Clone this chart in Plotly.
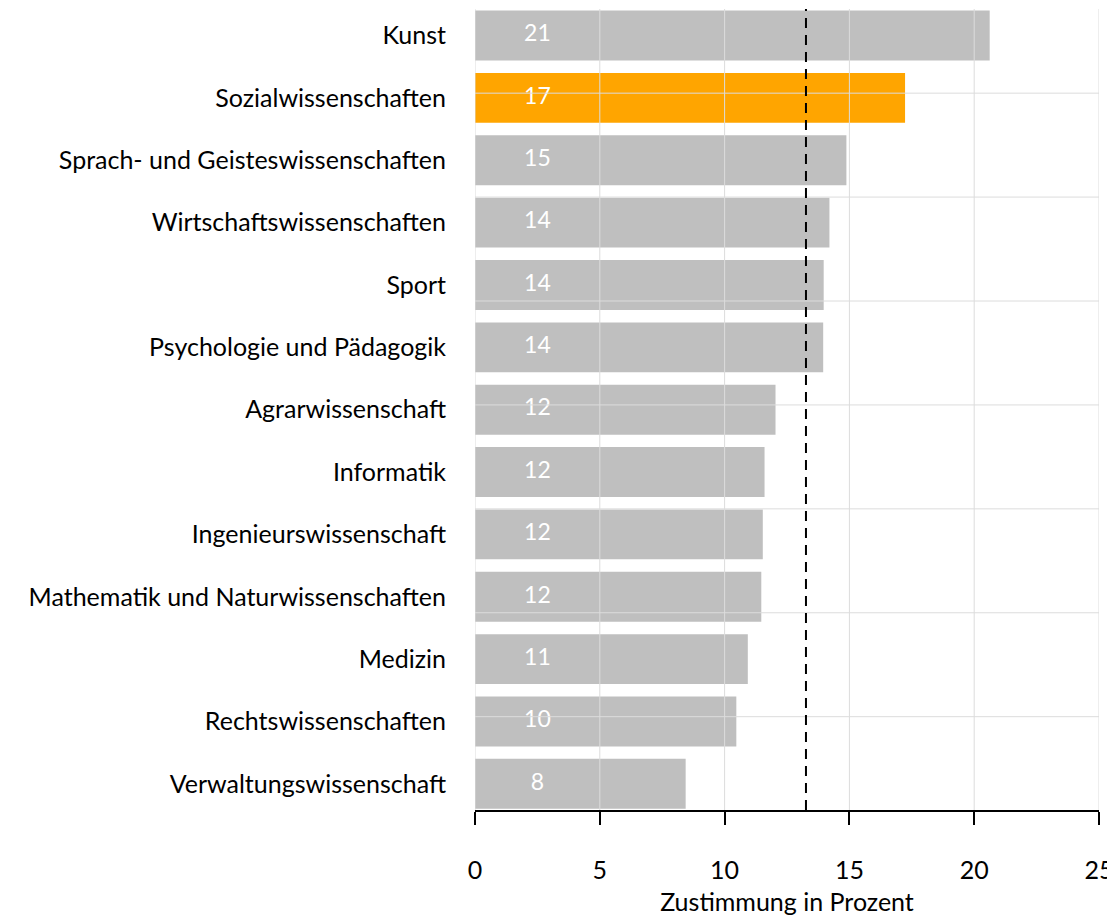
import plotly.graph_objects as go

# Fächer, von oben nach unten
faecher = [
    "Kunst",
    "Sozialwissenschaften",
    "Sprach- und Geisteswissenschaften",
    "Wirtschaftswissenschaften",
    "Sport",
    "Psychologie und Pädagogik",
    "Agrarwissenschaft",
    "Informatik",
    "Ingenieurswissenschaft",
    "Mathematik und Naturwissenschaften",
    "Medizin",
    "Rechtswissenschaften",
    "Verwaltungswissenschaft",
]
zustimmung = [20.62, 17.23, 14.88, 14.2, 13.97, 13.95, 12.04, 11.6, 11.53, 11.47, 10.93, 10.47, 8.44]
labels = ["21", "17", "15", "14", "14", "14", "12", "12", "12", "12", "11", "10", "8"]
highlight = "Sozialwissenschaften"
durchschnitt = 13.26

x_ticks = [0, 5, 10, 15, 20, 25]
h_grid = [1, 2, 3, 4, 5, 6, 7]

FONT = "Lato"
GREY = "#BFBFBF"
ORANGE = "#FFA500"
GRID = "#DCDCDC"
LABEL_X = 2.5

colours = [ORANGE if f == highlight else GREY for f in faecher]

fig = go.Figure()

fig.add_trace(go.Bar(
    x=zustimmung,
    y=faecher,
    orientation="h",
    width=0.8,
    marker=dict(color=colours, line=dict(width=0)),
    showlegend=False,
    hoverinfo="x+y",
))

# Werte als weiße Beschriftung im Balken
fig.add_trace(go.Scatter(
    x=[LABEL_X] * len(faecher),
    y=faecher,
    mode="text",
    text=labels,
    textposition="middle center",
    textfont=dict(family=FONT, size=23, color="white"),
    showlegend=False,
    hoverinfo="skip",
))

# leere Spur, damit die zweite y-Achse existiert
fig.add_trace(go.Scatter(x=[None], y=[None], yaxis="y2", showlegend=False, hoverinfo="skip"))

# Gitterlinien über den Balken
for t in x_ticks:
    fig.add_vline(x=t, line=dict(color=GRID, width=1), layer="above")
for h in h_grid:
    fig.add_shape(type="line", xref="x domain", x0=0, x1=1, yref="y2", y0=h, y1=h,
                  line=dict(color=GRID, width=1), layer="above")

# Durchschnitt
fig.add_vline(x=durchschnitt, line=dict(color="black", width=2, dash="10px,7px"), layer="above")

# Seite hat 8px Rand -> Figur nach links/oben versetzt rechnen
fig.update_layout(
    width=1107,
    height=908,
    margin=dict(l=467, r=16, t=1, b=106, autoexpand=False),
    plot_bgcolor="white",
    paper_bgcolor="white",
    font=dict(family=FONT, size=25, color="black"),
    bargap=0.2,
    xaxis=dict(
        range=[0, 25],
        tickvals=x_ticks,
        showgrid=False,
        zeroline=False,
        showline=True,
        linecolor="black",
        linewidth=2,
        ticks="outside",
        ticklen=13,
        tickwidth=2,
        tickcolor="black",
        ticklabelstandoff=24,
        automargin=True,
        tickfont=dict(size=25),
        title=dict(text="Zustimmung in Prozent", font=dict(size=25), standoff=12),
    ),
    yaxis=dict(
        categoryorder="array",
        categoryarray=faecher,
        range=[12.42, -0.426],
        showgrid=False,
        zeroline=False,
        showline=False,
        ticks="",
        ticklabelstandoff=28,
        automargin=False,
        tickfont=dict(size=25),
    ),
    yaxis2=dict(
        overlaying="y",
        range=[0.102, 7.81],
        visible=False,
        showgrid=False,
    ),
)

fig.write_html("out.html")
